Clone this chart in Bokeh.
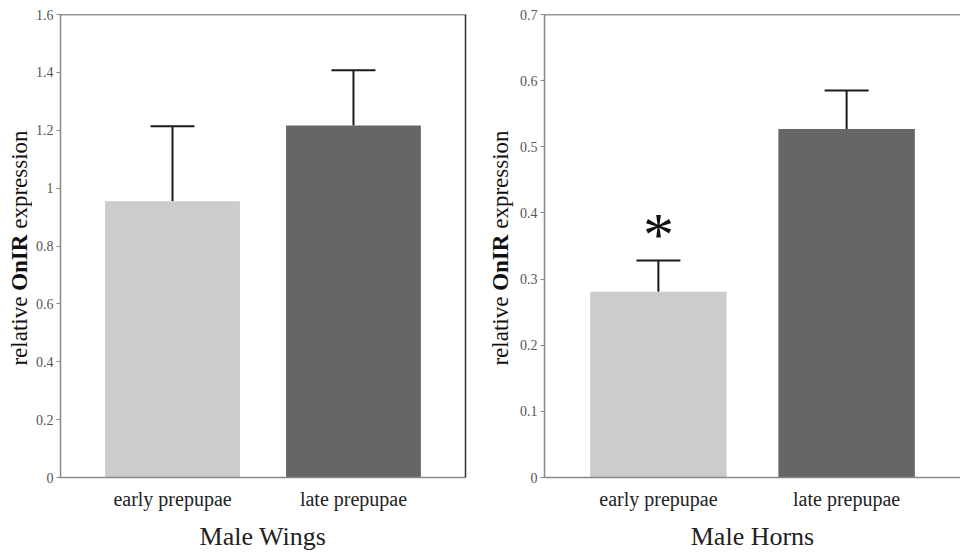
import math
from bokeh.plotting import figure
from bokeh.models import (ColumnDataSource, FactorRange, FixedTicker, Whisker, TeeHead,
                          LinearAxis, PrintfTickFormatter, Range1d, Span)
from bokeh.layouts import row
from bokeh.embed import file_html
from bokeh.resources import INLINE
from bokeh.core.properties import value

# ---------------- data ----------------
stages = ["early prepupae", "late prepupae"]
bar_colors = ["#cccccc", "#666666"]

wings_title = "Male Wings"
wings_mean = [0.955, 1.216]
wings_upper = [1.214, 1.407]
wings_sig = ["", ""]
wings_ticks = [0, 0.2, 0.4, 0.6, 0.8, 1.0, 1.2, 1.4, 1.6]
wings_ymax = 1.6

horns_title = "Male Horns"
horns_mean = [0.281, 0.527]
horns_upper = [0.328, 0.585]
horns_sig = ["*", ""]
horns_ticks = [0, 0.1, 0.2, 0.3, 0.4, 0.5, 0.6, 0.7]
horns_ymax = 0.7

ylabel_texts = ["relative", "OnIR", "expression"]
ylabel_styles = ["normal", "bold", "normal"]

# ---------------- styling helpers ----------------
FONT = "Liberation Serif"
HEIGHT = 554
TOP = 14
BOTTOM = 77
LABEL_SIZE = 23
REG = {" ": 250, "a": 444, "e": 444, "i": 278, "l": 278, "n": 500, "o": 500, "p": 500,
       "r": 333, "s": 389, "t": 278, "v": 500, "x": 500}
BOLD = {"O": 778, "n": 556, "I": 389, "R": 722}


def text_width(s, style, size):
    table = BOLD if style == "bold" else REG
    return sum(table.get(c, 500) for c in s) * size / 1000.0


def make_ylabel(width, center_x):
    """Narrow figure holding the rotated y-axis title (bold gene name)."""
    frame_h = HEIGHT - TOP - BOTTOM
    p = figure(width=width, height=HEIGHT, x_range=Range1d(0, width),
               y_range=Range1d(0, frame_h), output_backend="svg", toolbar_location=None,
               min_border_left=0, min_border_right=0, min_border_top=TOP,
               min_border_bottom=BOTTOM, x_axis_type=None, y_axis_type=None)
    p.outline_line_color = None
    p.grid.visible = False
    p.background_fill_color = "white"
    p.border_fill_color = "white"
    space = text_width(" ", "normal", LABEL_SIZE)
    total = sum(text_width(t, s, LABEL_SIZE) for t, s in zip(ylabel_texts, ylabel_styles))
    total += space * (len(ylabel_texts) - 1)
    mid = frame_h / 2.0 - 2
    ys = []
    y = mid - total / 2.0
    for t, s in zip(ylabel_texts, ylabel_styles):
        ys.append(y)
        y += text_width(t, s, LABEL_SIZE) + space
    src = ColumnDataSource(dict(x=[center_x] * len(ys), y=ys, text=ylabel_texts,
                                style=ylabel_styles))
    p.text(x="x", y="y", text="text", text_font_style="style", source=src,
           text_font=value(FONT), text_font_size=f"{LABEL_SIZE}px", text_color="#111111",
           angle=math.pi / 2, text_align="left", text_baseline="middle")
    return p


def make_panel(title, means, uppers, sig, ticks, ymax, width, border_left, border_right,
               pad, bar_width, right_border):
    src = ColumnDataSource(dict(stage=stages, mean=means, upper=uppers,
                                color=bar_colors, sig=sig))
    p = figure(x_range=FactorRange(factors=stages, range_padding=pad),
               y_range=Range1d(0, ymax), width=width, height=HEIGHT,
               output_backend="svg", toolbar_location=None,
               min_border_left=border_left, min_border_right=border_right,
               min_border_top=TOP, min_border_bottom=BOTTOM)
    p.background_fill_color = "white"
    p.border_fill_color = "white"
    p.outline_line_color = None
    p.xgrid.visible = False
    p.ygrid.visible = False

    p.vbar(x="stage", top="mean", width=bar_width, fill_color="color", line_color=None,
           source=src)
    p.add_layout(Whisker(base="stage", upper="upper", lower="mean", source=src,
                         dimension="height", line_color="#1a1a1a", line_width=2,
                         upper_head=TeeHead(size=44, line_color="#1a1a1a", line_width=2),
                         lower_head=None))
    p.text(x="stage", y="upper", text="sig", source=src, text_font=value(FONT),
           text_font_size="62px", text_align="center", text_baseline="middle",
           text_color="#111", y_offset=-27)

    # y axis
    ya = p.yaxis[0]
    ya.ticker = FixedTicker(ticks=ticks)
    ya.formatter = PrintfTickFormatter(format="%g")
    ya.major_tick_out = 4
    ya.major_tick_in = 0
    ya.minor_tick_line_color = None
    ya.major_tick_line_color = "#888888"
    ya.axis_line_color = "#888888"
    ya.axis_line_width = 1.5
    ya.major_label_text_font = FONT
    ya.major_label_text_font_size = "14px"
    ya.major_label_text_color = "#555555"
    ya.major_label_standoff = 3

    # x axis
    xa = p.xaxis[0]
    xa.major_tick_line_color = None
    xa.major_tick_out = 0
    xa.major_tick_in = 0
    xa.axis_line_color = "#888888"
    xa.axis_line_width = 1.5
    xa.major_label_text_font = FONT
    xa.major_label_text_font_size = "20px"
    xa.major_label_text_color = "#222222"
    xa.major_label_standoff = 10
    xa.axis_label = title
    xa.axis_label_text_font = FONT
    xa.axis_label_text_font_size = "26px"
    xa.axis_label_text_font_style = "normal"
    xa.axis_label_text_color = "#222222"
    xa.axis_label_standoff = 9

    # frame top (and right) border
    p.add_layout(Span(location=ymax, dimension="width", line_color="#333333",
                      line_width=1.5))
    if right_border:
        ra = LinearAxis(ticker=FixedTicker(ticks=[]), major_tick_out=0, major_tick_in=0,
                        minor_tick_out=0, minor_tick_in=0, major_label_standoff=0,
                        major_label_text_font_size="0px", axis_line_color="#333333",
                        axis_line_width=1.5)
        p.add_layout(ra, "right")
    return p


lab1 = make_ylabel(32, 18.5)
p1 = make_panel(wings_title, wings_mean, wings_upper, wings_sig, wings_ticks, wings_ymax,
                width=448, border_left=28, border_right=15, pad=0.119, bar_width=0.745,
                right_border=True)
lab2 = make_ylabel(34, 20)
p2 = make_panel(horns_title, horns_mean, horns_upper, horns_sig, horns_ticks, horns_ymax,
                width=446, border_left=30, border_right=0, pad=0.105, bar_width=0.725,
                right_border=False)

layout = row(lab1, p1, lab2, p2)
open("out.html", "w").write(file_html(layout, INLINE))
